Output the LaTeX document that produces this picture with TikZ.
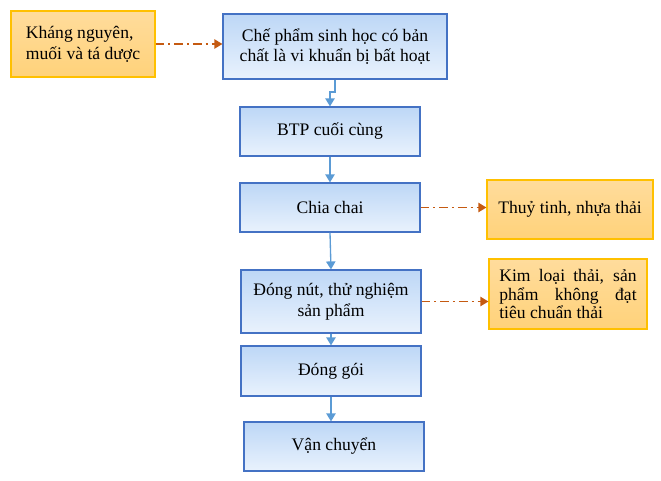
\documentclass[tikz,border=0pt]{standalone}
\usepackage{fontspec}
\setmainfont{Liberation Serif}
\usepackage{tikz}
\usetikzlibrary{arrows.meta,shapes}

\definecolor{stepline}{HTML}{4472C4}
\definecolor{steptop}{HTML}{BDD7F6}
\definecolor{stepbot}{HTML}{E9F2FD}
\definecolor{wasteline}{HTML}{FFC000}
\definecolor{wastetop}{HTML}{FFDC9C}
\definecolor{wastebot}{HTML}{FFD27A}
\definecolor{flowblue}{HTML}{5B9BD5}
\definecolor{flowrust}{HTML}{C55A11}

\tikzset{
  stepbox/.style={draw=stepline, line width=0.9pt, top color=steptop, bottom color=stepbot,
    align=center, inner sep=2pt, font=\fontsize{13.2}{15.5}\selectfont},
  wastebox/.style={draw=wasteline, line width=0.9pt, top color=wastetop, bottom color=wastebot,
    inner sep=2pt, font=\fontsize{13.2}{15.5}\selectfont},
  flow/.style={draw=flowblue, line width=1pt, -{Triangle[width=7pt,length=6pt]}},
  waste/.style={draw=flowrust, line width=1pt, dash pattern=on 6.5pt off 3pt on 1.5pt off 3pt,
    -{Triangle[width=7pt,length=6pt]}}
}

\begin{document}
\begin{tikzpicture}[x=0.75pt,y=-0.75pt]
    \useasboundingbox (0,0) rectangle (661,480);
    \node[wastebox, minimum width=108pt, minimum height=49.5pt, align=left] (input) at (83,44)
        {Kháng nguyên,\\muối và tá dược};
    \node[stepbox, minimum width=168pt, minimum height=48.75pt] (product) at (335,46.5)
        {Chế phẩm sinh học có bản\\chất là vi khuẩn bị bất hoạt};
    \node[stepbox, minimum width=135pt, minimum height=36.75pt] (btp) at (330,131.5) {BTP cuối cùng};
    \node[stepbox, minimum width=135pt, minimum height=36.75pt] (bottle) at (330,207.5) {Chia chai};
    \node[stepbox, minimum width=135pt, minimum height=47.25pt] (cap) at (331,301.5)
        {Đóng nút, thử nghiệm\\sản phẩm};
    \node[stepbox, minimum width=135pt, minimum height=37.5pt] (pack) at (331,371) {Đóng gói};
    \node[stepbox, minimum width=135pt, minimum height=36.75pt] (ship) at (334,446.5) {Vận chuyển};
    \node[wastebox, minimum width=124.5pt, minimum height=44.25pt, align=center] (glass) at (570,209.5)
        {Thuỷ tinh, nhựa thải};
    \node[wastebox, minimum width=118.5pt, minimum height=52.5pt, align=left,
        font=\fontsize{13.2}{14.2}\selectfont] (metal) at (568,294)
        {\makebox[103pt][s]{Kim loại thải, sản}\\\makebox[103pt][s]{phẩm không đạt}\\\makebox[103pt][l]{tiêu chuẩn thải}};

    \coordinate (bend) at (335,92);
    \draw[waste] (input.east) -- (input.east -| product.west);
    \draw[flow] (product.south -| bend) -- (bend) -| (btp.north);
    \draw[flow] (btp) -- (bottle);
    \draw[flow] (bottle.south) -- (cap.north);
    \draw[flow] (cap) -- (pack);
    \draw[flow] (pack.south) -- (pack.south |- ship.north);
    \draw[waste] (bottle.east) -- (bottle.east -| glass.west);
    \draw[waste] (cap.east) -- (cap.east -| metal.west);
\end{tikzpicture}
\end{document}
